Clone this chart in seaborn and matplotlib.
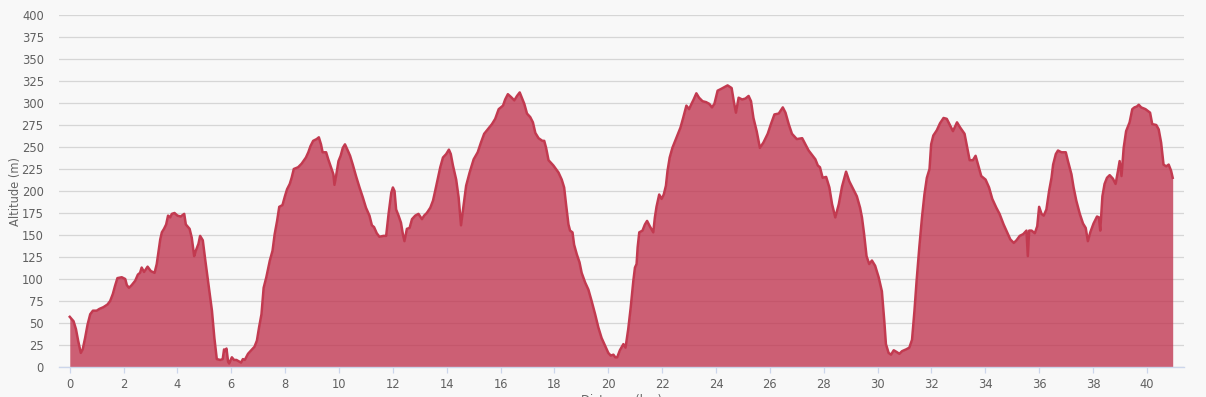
import matplotlib
matplotlib.use("Agg")
import matplotlib.pyplot as plt
import seaborn as sns
import numpy as np

distance_km = [
    0, 0.14, 0.23, 0.31, 0.41, 0.48, 0.57, 0.66, 0.76, 0.86, 1.0, 1.1, 1.25, 1.4, 1.5, 1.6, 1.68, 1.77, 1.93, 2.06,
    2.12, 2.2, 2.3, 2.43, 2.53, 2.61, 2.67, 2.76, 2.89, 3.01, 3.15, 3.23, 3.36, 3.42, 3.5, 3.58, 3.65, 3.73, 3.79, 3.89,
    4.0, 4.12, 4.25, 4.31, 4.45, 4.53, 4.62, 4.68, 4.78, 4.84, 4.94, 5.03, 5.15, 5.28, 5.37, 5.46, 5.59, 5.68,
    5.73, 5.77, 5.82, 5.88, 5.92, 6.02, 6.1, 6.19, 6.3, 6.36, 6.43, 6.5, 6.62, 6.74, 6.86, 6.95, 7.03, 7.12, 7.2, 7.3,
    7.43, 7.53, 7.61, 7.7, 7.78, 7.9, 7.99, 8.07, 8.17, 8.24, 8.32, 8.48, 8.61, 8.77, 8.86, 8.94, 9.04, 9.17, 9.25, 9.33,
    9.39, 9.52, 9.6, 9.7, 9.79, 9.83, 9.89, 9.98, 10.06, 10.14, 10.22, 10.31, 10.41, 10.51, 10.63, 10.76, 10.88, 11.0,
    11.13, 11.22, 11.3, 11.4, 11.5, 11.65, 11.75, 11.84, 11.94, 12.0, 12.06, 12.12, 12.21, 12.3, 12.37, 12.43, 12.52,
    12.62, 12.71, 12.83, 12.95, 13.08, 13.16, 13.26, 13.39, 13.49, 13.57, 13.66, 13.76, 13.86, 13.98, 14.08, 14.15,
    14.23, 14.35, 14.44, 14.53, 14.63, 14.72, 14.85, 15.0, 15.15, 15.27, 15.39, 15.52, 15.68, 15.8, 15.93, 16.09, 16.17,
    16.27, 16.38, 16.51, 16.61, 16.71, 16.79, 16.88, 16.98, 17.1, 17.2, 17.29, 17.41, 17.55, 17.62, 17.69, 17.78,
    17.96, 18.15, 18.27, 18.36, 18.43, 18.52, 18.58, 18.67, 18.73, 18.83, 18.93, 19.01, 19.14, 19.26, 19.38, 19.51,
    19.63, 19.75, 19.88, 20.0, 20.09, 20.19, 20.26, 20.33, 20.43, 20.56, 20.64, 20.74, 20.83, 20.93, 20.99, 21.05,
    21.09, 21.15, 21.27, 21.36, 21.44, 21.54, 21.67, 21.73, 21.79, 21.89, 21.98, 22.06, 22.14, 22.2, 22.28, 22.38,
    22.51, 22.59, 22.68, 22.78, 22.9, 23.0, 23.09, 23.17, 23.27, 23.37, 23.5, 23.63, 23.75, 23.85, 23.94, 24.06, 24.19,
    24.31, 24.43, 24.58, 24.66, 24.74, 24.84, 24.97, 25.09, 25.21, 25.3, 25.39, 25.51, 25.63, 25.76, 25.92, 26.04,
    26.17, 26.33, 26.48, 26.58, 26.7, 26.82, 27.0, 27.2, 27.32, 27.44, 27.59, 27.69, 27.78, 27.86, 27.96, 28.09, 28.21,
    28.31, 28.43, 28.56, 28.68, 28.83, 28.95, 29.1, 29.23, 29.35, 29.42, 29.5, 29.59, 29.69, 29.79, 29.91, 30.04,
    30.16, 30.25, 30.31, 30.41, 30.5, 30.6, 30.71, 30.81, 30.91, 31.06, 31.18, 31.28, 31.37, 31.45, 31.55, 31.65,
    31.74, 31.83, 31.93, 31.99, 32.07, 32.2, 32.32, 32.45, 32.57, 32.67, 32.8, 32.95, 33.07, 33.23, 33.32, 33.42,
    33.54, 33.64, 33.73, 33.85, 34.01, 34.14, 34.26, 34.41, 34.53, 34.68, 34.81, 34.93, 35.06, 35.16, 35.28, 35.41,
    35.53, 35.58, 35.63, 35.72, 35.84, 35.93, 36.0, 36.09, 36.17, 36.27, 36.37, 36.46, 36.52, 36.62, 36.7, 36.83,
    36.99, 37.07, 37.2, 37.28, 37.38, 37.51, 37.63, 37.73, 37.81, 37.9, 38.02, 38.15, 38.22, 38.27, 38.35, 38.43,
    38.52, 38.62, 38.74, 38.84, 38.93, 38.99, 39.06, 39.14, 39.23, 39.36, 39.46, 39.54, 39.63, 39.7, 39.79, 39.95,
    40.12, 40.2, 40.35, 40.44, 40.53, 40.62, 40.72, 40.81, 40.9, 40.96,
]

altitude_m = [
    57, 52, 43, 30, 16, 20, 33, 48, 60, 64, 64, 66, 68, 71, 75, 83, 92, 101, 102, 100,
    93, 90, 93, 98, 105, 107, 113, 108, 114, 109, 107, 117, 145, 153, 157, 162, 172, 170, 174, 175,
    172, 171, 174, 162, 157, 147, 126, 132, 140, 149, 144, 122, 94, 64, 33, 9, 8, 9,
    20, 18, 21, 6, 4, 11, 8, 8, 6, 5, 9, 8, 15, 19, 23, 30, 45, 60, 90, 102,
    121, 132, 151, 166, 182, 184, 194, 202, 208, 215, 225, 227, 231, 238, 244, 251, 257, 259, 261, 253,
    244, 244, 236, 227, 219, 207, 217, 234, 240, 249, 253, 247, 240, 230, 217, 204, 193, 181,
    172, 161, 159, 152, 148, 149, 149, 174, 198, 204, 200, 179, 172, 164, 151, 143, 157,
    158, 168, 172, 174, 168, 172, 175, 181, 189, 200, 213, 227, 238, 242, 247, 242,
    229, 213, 193, 161, 185, 206, 221, 236, 244, 255, 265, 270, 276, 282, 293, 297, 304,
    310, 307, 303, 308, 312, 306, 299, 288, 284, 278, 266, 260, 257, 257, 249, 235,
    229, 221, 213, 204, 185, 162, 155, 153, 139, 128, 119, 107, 96, 88, 75, 60,
    45, 33, 24, 16, 13, 14, 11, 11, 19, 26, 22, 43, 67, 98, 113, 117,
    136, 153, 155, 162, 166, 160, 153, 170, 182, 196, 191, 196, 206, 223, 238, 249,
    259, 265, 272, 283, 297, 293, 299, 304, 311, 306, 302, 301, 299, 295, 299, 314, 316,
    318, 320, 317, 302, 289, 306, 304, 305, 308, 302, 283, 268, 249, 255, 265, 276,
    287, 288, 295, 289, 276, 265, 259, 260, 253, 246, 240, 236, 229, 227, 215, 216, 204,
    185, 170, 185, 205, 222, 211, 202, 194, 181, 170, 151, 126, 117, 121, 115, 102,
    86, 52, 26, 16, 14, 19, 17, 15, 18, 20, 22, 31, 64, 98, 136, 170,
    196, 215, 225, 253, 263, 269, 277, 283, 282, 276, 268, 278, 272, 265, 251, 235,
    235, 240, 230, 217, 213, 204, 191, 181, 174, 162, 153, 145, 141, 144, 149, 151,
    155, 126, 155, 155, 152, 160, 182, 174, 172, 179, 200, 215, 230, 242, 246, 244,
    244, 234, 219, 204, 189, 174, 163, 158, 143, 153, 163, 171, 170, 155, 194, 208,
    215, 218, 214, 208, 223, 234, 217, 249, 268, 278, 293, 295, 296, 298, 295, 293,
    289, 276, 275, 270, 255, 230, 228, 230, 223, 215,
]

x_ticks = list(range(0, 42, 2))
y_ticks = list(range(0, 425, 25))

W, H = 1206, 397
fig = plt.figure(figsize=(W / 100, H / 100), dpi=100)
fig.patch.set_facecolor("#f8f8f8")
ax = fig.add_axes([59 / W, 1 - 367 / H, (1184 - 59) / W, (367 - 15) / H])
ax.set_facecolor("#f8f8f8")

ax.fill_between(distance_km, altitude_m, 0, color="#c0344f", alpha=0.78, linewidth=0, zorder=2)
sns.lineplot(x=distance_km, y=altitude_m, ax=ax, color="#c23a50", linewidth=1.8,
             estimator=None, sort=False, zorder=3)

ax.set_xlim(-0.40, 41.38)
ax.set_ylim(0, 400)
ax.set_xticks(x_ticks)
ax.set_yticks(y_ticks)
ax.set_xticklabels([str(t) for t in x_ticks])
ax.set_yticklabels([str(t) for t in y_ticks])

ax.set_axisbelow(True)
ax.yaxis.grid(True, color="#d6d6d6", linewidth=0.9, zorder=0)
ax.xaxis.grid(False)
for s in ["top", "right", "left"]:
    ax.spines[s].set_visible(False)
ax.spines["bottom"].set_color("#ccd6eb")
ax.spines["bottom"].set_linewidth(1.0)
ax.spines["bottom"].set_zorder(4)

ax.tick_params(axis="y", length=0, pad=11, labelsize=8.3, labelcolor="#606060")
ax.tick_params(axis="x", length=4, width=0.9, color="#ccd6eb", pad=4, labelsize=8.3, labelcolor="#606060")

ax.set_ylabel("Altitude (m)", fontsize=8.3, color="#666666")
ax.yaxis.set_label_coords(-0.033, 0.5)
ax.set_xlabel("Distance (km)", fontsize=8.3, color="#666666")
ax.xaxis.set_label_coords(0.5, -0.077)
ax.xaxis.label.set_va("top")

fig.savefig("out.png", dpi=100, facecolor=fig.get_facecolor())
